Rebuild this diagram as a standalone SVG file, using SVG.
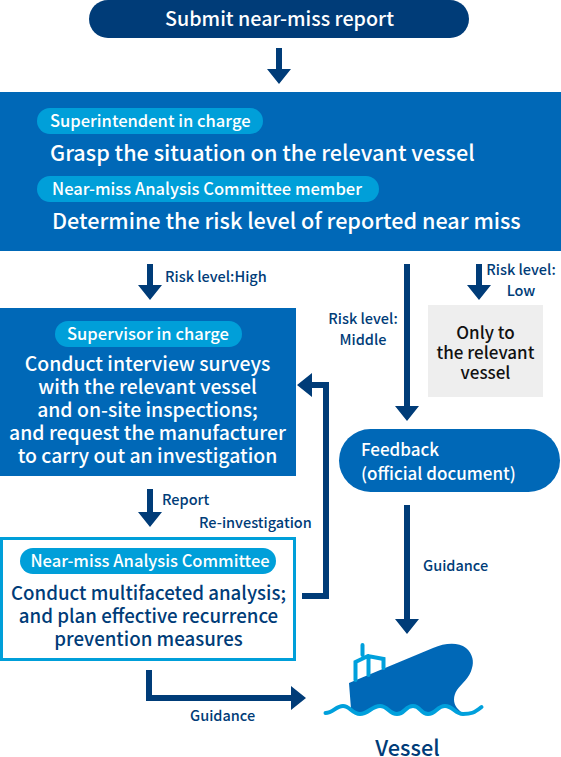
<svg xmlns="http://www.w3.org/2000/svg" width="561" height="757" viewBox="0 0 561 757">
<style>
text{font-family:"Noto Sans CJK JP","Noto Sans",sans-serif;font-weight:500}
.w{fill:#fff}.n{fill:#003c78}.k{fill:#111}
.m{text-anchor:middle}
.t20{font-size:21.6px}.t18{font-size:19.4px}.c18{font-size:18.7px}.t16{font-size:16.55px}.f16{font-size:17px}.t14{font-size:14.5px}
.arrow{fill:#003c78}
.lb{fill:#009fd9}.bl{fill:#0068b7}
.sky{fill:none;stroke:#00a0dc;stroke-linecap:round}
</style>
<g id="node-submit"><rect x="89" y="0" width="380" height="38" rx="19" fill="#003c78"/><text class="w m" style="font-size:19.7px" x="279.500" y="26">Submit near-miss report</text></g>
<g id="node-superintendent"><rect class="bl" x="0" y="92" width="561" height="159"/>
<rect class="lb" x="37" y="108" width="226" height="26" rx="13"/><text class="w t16" x="50" y="127">Superintendent in charge</text>
<text class="w t20" x="50" y="161">Grasp the situation on the relevant vessel</text>
<rect class="lb" x="37" y="176" width="342" height="26" rx="13"/><text class="w t16" x="52" y="195">Near-miss Analysis Committee member</text>
<text class="w t20" x="52" y="229">Determine the risk level of reported near miss</text></g>
<g id="node-supervisor"><rect class="bl" x="0" y="308" width="296" height="168"/>
<rect class="lb" x="55" y="321" width="187" height="26" rx="13"/><text class="w m t16" x="148" y="340">Supervisor in charge</text>
<text class="w m t18" y="371"><tspan x="147.500">Conduct interview surveys</tspan><tspan x="147.500" dy="23">with the relevant vessel</tspan><tspan x="147.500" dy="23">and on-site inspections;</tspan><tspan x="147.500" dy="23">and request the manufacturer</tspan><tspan x="147.500" dy="23">to carry out an investigation</tspan></text></g>
<g id="node-committee"><rect x="1.500" y="538.500" width="293" height="121" fill="#fff" stroke="#009fd9" stroke-width="3"/>
<rect class="lb" x="20" y="548" width="256" height="26" rx="13"/><text class="w m t16" x="150" y="567">Near-miss Analysis Committee</text>
<text class="n m c18" y="600"><tspan x="148.500">Conduct multifaceted analysis;</tspan><tspan x="148.500" dy="23">and plan effective recurrence</tspan><tspan x="148.500" dy="23">prevention measures</tspan></text></g>
<g id="node-only"><rect x="428" y="305" width="115" height="92" fill="#eee"/>
<text class="k m f16" y="339"><tspan x="485.500">Only to</tspan><tspan x="485.500" dy="20">the relevant</tspan><tspan x="485.500" dy="20">vessel</tspan></text></g>
<g id="node-feedback"><rect class="bl" x="339" y="429" width="221" height="63" rx="31.500"/>
<text class="w f16" y="456"><tspan x="361">Feedback</tspan><tspan x="361" dy="24">(official document)</tspan></text></g>
<g id="node-vessel">
<path class="bl" d="M349 683L433 648C445 643 458 642 466 648C473 654 474 662 472 668C470 678 461 684 457 690C453 696 453 703 457 708L463 714C455 714 453 706 445 706S436 714 428 714S421 706 413 706S405 714 397 714S388 706 380 706S368 714 360 714L351 709Z"/>
<path class="sky" stroke-width="4" d="M362.500 645V655M355.500 680V662L368 656L383.500 659V668M368.500 656V675"/>
<path class="sky" stroke-width="4" d="M325.500 713C333 713 336 706 343 706S352 714 360 714S372 706 380 706S389 714 397 714S405 706 413 706S420 714 428 714S437 706 445 706S455 714 463 714S474 713 481.500 707"/>
<text class="n m" style="font-size:21.700px" x="407.500" y="756">Vessel</text></g>
<g id="connectors">
<path class="arrow" d="M276 48h6v21h9l-12 15l-12-15h9z"/>
<path class="arrow" d="M147 264h6v21h9l-12 15l-12-15h9z"/>
<path class="arrow" d="M476 264h6v21h9l-12 15l-12-15h9z"/>
<path class="arrow" d="M404 264h6v142h9l-12 15l-12-15h9z"/>
<path class="arrow" d="M147 489h6v23h9l-12 15l-12-15h9z"/>
<path class="arrow" d="M404 505h6v114h9l-12 15l-12-15h9z"/>
<path class="arrow" d="M302 599v-6h21V388h-11v9l-15-12l15-12v9h17v217z"/>
<path class="arrow" d="M146 670h6v25h139v-9l15 12l-15 12v-9h-145z"/>
<text class="n t14" x="165" y="282">Risk level:High</text>
<text class="n m t14" y="275"><tspan x="521">Risk level:</tspan><tspan x="521" dy="21">Low</tspan></text>
<text class="n m t14" y="324"><tspan x="363">Risk level:</tspan><tspan x="363" dy="21">Middle</tspan></text>
<text class="n t14" x="162" y="505">Report</text>
<text class="n t14" x="199" y="528">Re-investigation</text>
<text class="n t14" x="423" y="571">Guidance</text>
<text class="n t14" x="190" y="721">Guidance</text>
</g>
</svg>
